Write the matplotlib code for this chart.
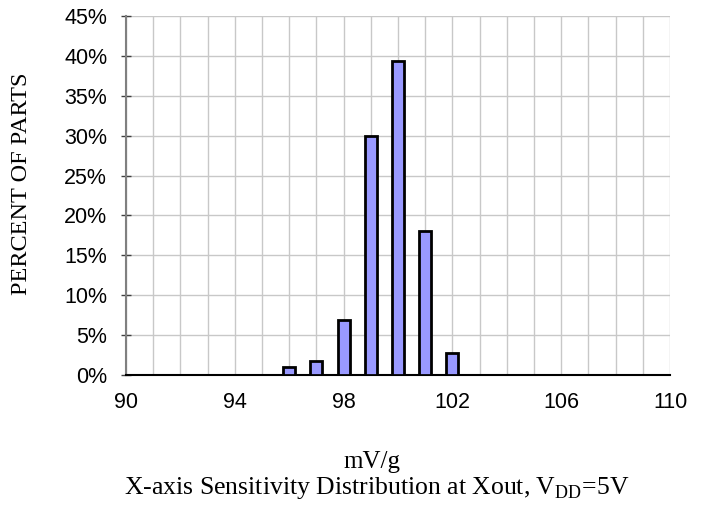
import matplotlib
matplotlib.use("Agg")
import matplotlib.pyplot as plt
from matplotlib.ticker import MultipleLocator, FuncFormatter

sensitivity = [96, 97, 98, 99, 100, 101, 102]
percent_parts = [1.0, 1.8, 6.9, 30.0, 39.3, 18.0, 2.7]
x_ticks = [90, 94, 98, 102, 106, 110]
y_ticks = [0, 5, 10, 15, 20, 25, 30, 35, 40, 45]

fig = plt.figure(figsize=(7.06, 5.07), dpi=100)
ax = fig.add_axes([126/706, 1-375/507, (670-126)/706, (375-16)/507])

ax.bar(sensitivity, percent_parts, width=0.44, color="#9999FF",
       edgecolor="black", linewidth=2.0, zorder=3)

ax.set_xlim(90, 110)
ax.set_ylim(0, 45)
ax.set_xticks(x_ticks)
ax.xaxis.set_minor_locator(MultipleLocator(1))
ax.set_yticks(y_ticks)
ax.yaxis.set_major_formatter(FuncFormatter(lambda v, p: f"{int(v)}%"))

ax.grid(True, which="both", axis="x", color="#C8C8C8", linewidth=1.0, zorder=0)
ax.grid(True, which="major", axis="y", color="#C8C8C8", linewidth=1.0, zorder=0)
ax.set_axisbelow(True)

for s in ["top", "right"]:
    ax.spines[s].set_visible(False)
ax.spines["left"].set_color("#808080")
ax.spines["left"].set_linewidth(1.5)
ax.spines["bottom"].set_color("black")
ax.spines["bottom"].set_linewidth(1.5)

sans = ["Liberation Sans", "DejaVu Sans"]
serif = ["Liberation Serif", "DejaVu Serif"]
ax.tick_params(axis="y", direction="inout", length=7, width=1, color="#404040",
               labelsize=15.5, pad=10)
ax.tick_params(axis="x", which="both", length=0, labelsize=15.5, pad=12)
for lab in ax.get_xticklabels() + ax.get_yticklabels():
    lab.set_fontfamily(sans)

fig.text(22/706, 1-184/507, "PERCENT OF PARTS", rotation=90, ha="center", va="center",
         fontsize=17.5, family=serif)
fig.text(372/706, 1-462/507, "mV/g", ha="center", va="center", fontsize=18, family=serif)
fig.text(377/706, 1-488/507, r"X-axis Sensitivity Distribution at Xout, V$_{\mathregular{DD}}$=5V",
         ha="center", va="center", fontsize=18.5, family=serif)

fig.savefig("out.png", dpi=100)
